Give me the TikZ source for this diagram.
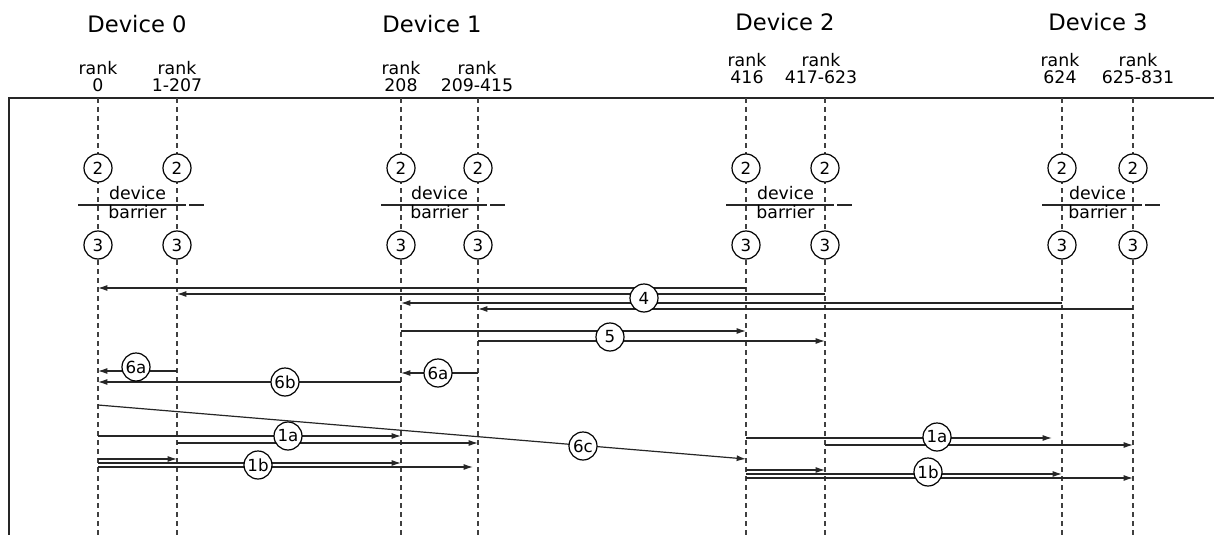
\documentclass[tikz,border=0pt]{standalone}
\usepackage{fontspec}
\setmainfont{DejaVu Sans}
\usetikzlibrary{arrows.meta,calc}

\begin{document}
\begin{tikzpicture}[x=0.75pt,y=-0.75pt,>={Latex[length=7pt,width=4.5pt]},
 dev/.style={font=\fontsize{17}{20}\selectfont},
 rank/.style={align=center,inner sep=0pt,font=\fontsize{13}{12.8}\selectfont},
 life/.style={draw=black!75,line width=1.3pt,dash pattern=on 3.75pt off 3pt},
 num/.style={circle,draw,fill=white,line width=0.9pt,minimum size=21pt,inner sep=0pt,font=\fontsize{12.5}{12.5}\selectfont},
 msg/.style={->,draw=black!85,line width=0.9pt},
 bar/.style={draw=black!85,line width=0.9pt},
 btext/.style={inner sep=0pt,font=\fontsize{13}{13}\selectfont}]
\useasboundingbox (0,0) rectangle (1214,535);
\node[dev] (dev0) at (137,24) {Device 0};
\node[dev] (dev1) at (432,24) {Device 1};
\node[dev] (dev2) at (785,22) {Device 2};
\node[dev] (dev3) at (1098,22) {Device 3};
\node[rank] (lr0) at (98,77) {rank\\0};
\node[rank] (lr1) at (177,77) {rank\\1-207};
\node[rank] (lr208) at (401,77) {rank\\208};
\node[rank] (lr209) at (477,77) {rank\\209-415};
\node[rank] (lr416) at (747,69) {rank\\416};
\node[rank] (lr417) at (821,69) {rank\\417-623};
\node[rank] (lr624) at (1060,69) {rank\\624};
\node[rank] (lr625) at (1138,69) {rank\\625-831};
\coordinate (fl) at (9,535);
\coordinate (ft) at (9,98);
\coordinate (fr) at (1214,98);
\draw[line width=1.2pt,black!85] (fl) -- (ft) -- (fr);
\coordinate (r0) at (98,98);
\coordinate (r1) at (177,98);
\coordinate (r208) at (401,98);
\coordinate (r209) at (478,98);
\coordinate (r416) at (746,98);
\coordinate (r417) at (825,98);
\coordinate (r624) at (1062,98);
\coordinate (r625) at (1133,98);
\foreach \r in {r0,r1,r208,r209,r416,r417,r624,r625}{
 \draw[life] (\r) -- (\r |- 0,535);
 \node[num] (\r-a) at (\r |- 0,168) {2};
 \node[num] (\r-b) at (\r |- 0,245) {3};
}
\foreach \a/\b/\n in {r0/r1/0,r208/r209/1,r416/r417/2,r624/r625/3}{
 \draw[bar] ($(\a)+(-20,107)$) -- ($(\b)+(9,107)$) ($(\b)+(12,107)$) -- ($(\b)+(27,107)$);
 \node[btext] (dv\n) at ($(\a)!0.5!(\b)+(0,95.5)$) {device};
 \node[btext] (br\n) at ($(\a)!0.5!(\b)+(0,114.5)$) {barrier};
}
\foreach \s/\t/\y in {r416/r0/288,r417/r1/294,r624/r208/303,r625/r209/309,
 r208/r416/331,r209/r417/341,r1/r0/371,r208/r0/382,r209/r208/373,
 r0/r208/436,r1/r209/443,r0/r1/459,r0/r208/463,
 r417/r625/445,r416/r417/470,r416/r624/474,r416/r625/478}
 \draw[msg] (\s |- 0,\y) -- (\t |- 0,\y);
\draw[msg,shorten >=7.5pt] (r416 |- 0,438) -- (r624 |- 0,438);
\draw[msg,shorten >=3.75pt] (r0 |- 0,467) -- (r209 |- 0,467);
\draw[msg] (r0 |- 0,405) -- (r416 |- 0,459);
\node[num] (l4) at (644,298) {4};
\node[num] (l5) at (610,337) {5};
\node[num] (l6a0) at (136,367) {6a};
\node[num] (l6b) at (285,382) {6b};
\node[num] (l6a1) at (438,373) {6a};
\node[num] (l6c) at (583,446) {6c};
\node[num] (l1a0) at (288,436) {1a};
\node[num] (l1b0) at (258,465) {1b};
\node[num] (l1a1) at (937,437) {1a};
\node[num] (l1b1) at (928,472) {1b};
\end{tikzpicture}
\end{document}
